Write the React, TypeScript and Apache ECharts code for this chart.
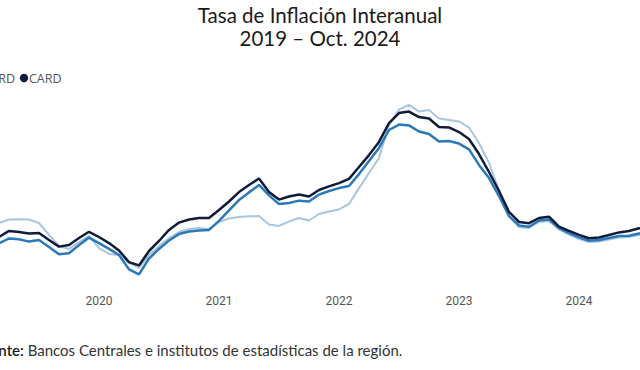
import React, { useEffect, useRef } from "react";
import * as echarts from "echarts";

// Month index 0 = Jan 2019 ... 69 = Oct 2024
const months: number[] = Array.from({ length: 70 }, (_, i) => i);
const yearTicks: string[] = ["", "2020", "2021", "2022", "2023", "2024"];
const seriesNames: string[] = ["CA", "RD", "CARD"];

const lightSeries: number[] = [
  3.01, 3.06, 3.11, 3.28, 3.29, 3.28, 3.11, 2.54, 2.01, 1.87, 2.2, 2.49,
  1.91, 1.63, 1.58, 1.2, 0.96, 1.58, 2.01, 2.39, 2.68, 2.82, 2.87, 2.82,
  3.16, 3.33, 3.4, 3.43, 3.44, 3.04, 2.97, 3.18, 3.35, 3.23, 3.54, 3.66,
  3.76, 4.02, 4.78, 5.5, 6.22, 7.8, 8.54, 8.76, 8.44, 8.52, 8.11, 8.04,
  7.97, 7.68, 6.94, 5.98, 4.69, 3.44, 2.92, 2.87, 3.16, 3.21, 2.8, 2.56,
  2.34, 2.2, 2.22, 2.32, 2.42, 2.44, 2.54, 2.56, 2.61, 2.66,
];
const midSeries: number[] = [
  2.01, 2.06, 2.14, 2.37, 2.33, 2.22, 2.3, 1.96, 1.61, 1.66, 2.06, 2.41,
  2.15, 1.87, 1.58, 0.89, 0.65, 1.41, 1.87, 2.27, 2.58, 2.7, 2.75, 2.78,
  3.21, 3.71, 4.21, 4.57, 4.93, 4.43, 4.02, 4.07, 4.18, 4.14, 4.47, 4.64,
  4.78, 4.88, 5.45, 6.08, 6.7, 7.56, 7.82, 7.78, 7.49, 7.37, 7.01, 7.03,
  6.91, 6.63, 5.89, 5.26, 4.4, 3.44, 2.99, 2.93, 3.23, 3.28, 2.87, 2.63,
  2.42, 2.26, 2.3, 2.39, 2.49, 2.5, 2.61, 2.63, 2.68, 2.73,
];
const cardSeries: number[] = [
  2.3, 2.34, 2.44, 2.73, 2.68, 2.61, 2.63, 2.3, 1.98, 2.06, 2.39, 2.69,
  2.44, 2.15, 1.79, 1.24, 1.08, 1.77, 2.25, 2.78, 3.13, 3.28, 3.35, 3.35,
  3.73, 4.14, 4.59, 4.93, 5.24, 4.59, 4.23, 4.38, 4.47, 4.38, 4.69, 4.86,
  5.02, 5.22, 5.79, 6.36, 6.99, 7.89, 8.37, 8.44, 8.18, 8.11, 7.7, 7.68,
  7.46, 7.13, 6.41, 5.55, 4.64, 3.64, 3.16, 3.1, 3.35, 3.41, 2.94, 2.73,
  2.54, 2.38, 2.42, 2.54, 2.66, 2.73, 2.86, 2.87, 2.92, 2.97,
];

const COLORS = ["#a9c6e0", "#2b79b8", "#101c3a"];
const OFF = 60; // chart canvas shifted left (reference is cropped)
const W = 760;
const H = 370;

export default function App() {
  const ref = useRef<HTMLDivElement>(null);
  useEffect(() => {
    if (!ref.current) return;
    const chart = echarts.init(ref.current, undefined, { renderer: "svg" });
    const pair = (arr: number[]) => months.map((m, i) => [m, arr[i]]);
    const sx = (x: number) => x + OFF;
    chart.setOption({
      animation: false,
      backgroundColor: "#ffffff",
      grid: { left: 39, right: W - 39 - 690, top: 79, bottom: 82, containLabel: false },
      xAxis: {
        type: "value",
        min: 0,
        max: 69,
        interval: 12,
        axisLine: { show: false },
        axisTick: { show: false },
        splitLine: { show: false },
        axisLabel: {
          margin: 7,
          color: "#555555",
          fontFamily: "Roboto",
          fontSize: 12,
          formatter: (v: number) => (v % 12 === 0 ? yearTicks[v / 12] : ""),
        },
      },
      yAxis: { type: "value", min: 0, max: 10, show: false, splitLine: { show: false } },
      series: [
        { name: seriesNames[0], type: "line", data: pair(lightSeries), showSymbol: false, lineStyle: { width: 2, color: COLORS[0] }, itemStyle: { color: COLORS[0] }, z: 1 },
        { name: seriesNames[1], type: "line", data: pair(midSeries), showSymbol: false, lineStyle: { width: 2.5, color: COLORS[1] }, itemStyle: { color: COLORS[1] }, z: 2 },
        { name: seriesNames[2], type: "line", data: pair(cardSeries), showSymbol: false, lineStyle: { width: 2.5, color: COLORS[2] }, itemStyle: { color: COLORS[2] }, z: 3 },
      ],
      graphic: [
        { type: "text", x: sx(320), y: 15, style: { text: "Tasa de Inflación Interanual", fill: "#1a1a1a", font: "20.5px Lato", align: "center", verticalAlign: "middle" } },
        { type: "text", x: sx(320), y: 38, style: { text: "2019 – Oct. 2024", fill: "#1a1a1a", font: "20.5px Lato", align: "center", verticalAlign: "middle" } },
        { type: "circle", shape: { cx: sx(-36), cy: 78, r: 4 }, style: { fill: COLORS[1] } },
        { type: "text", x: sx(15), y: 78, style: { text: seriesNames[1], fill: "#555555", font: "12.5px 'Open Sans'", align: "right", verticalAlign: "middle" } },
        { type: "circle", shape: { cx: sx(24), cy: 78, r: 4.2 }, style: { fill: COLORS[2] } },
        { type: "text", x: sx(29), y: 78, style: { text: seriesNames[2], fill: "#555555", font: "12.5px 'Open Sans'", align: "left", verticalAlign: "middle" } },
        {
          type: "text",
          x: sx(-26),
          y: 350,
          style: {
            text: "{b|Fuente:} Bancos Centrales e institutos de estadísticas de la región.",
            fill: "#333333",
            font: "15px Lato",
            verticalAlign: "middle",
            rich: { b: { font: "600 15px Lato", fill: "#1a1a1a" } },
          },
        },
      ],
    });
    return () => chart.dispose();
  }, []);
  return (
    <div style={{ position: "fixed", left: 0, top: 0, width: 640, height: H, overflow: "hidden", background: "#fff" }}>
      <div ref={ref} style={{ position: "absolute", left: -OFF, top: 0, width: W, height: H }} />
    </div>
  );
}
